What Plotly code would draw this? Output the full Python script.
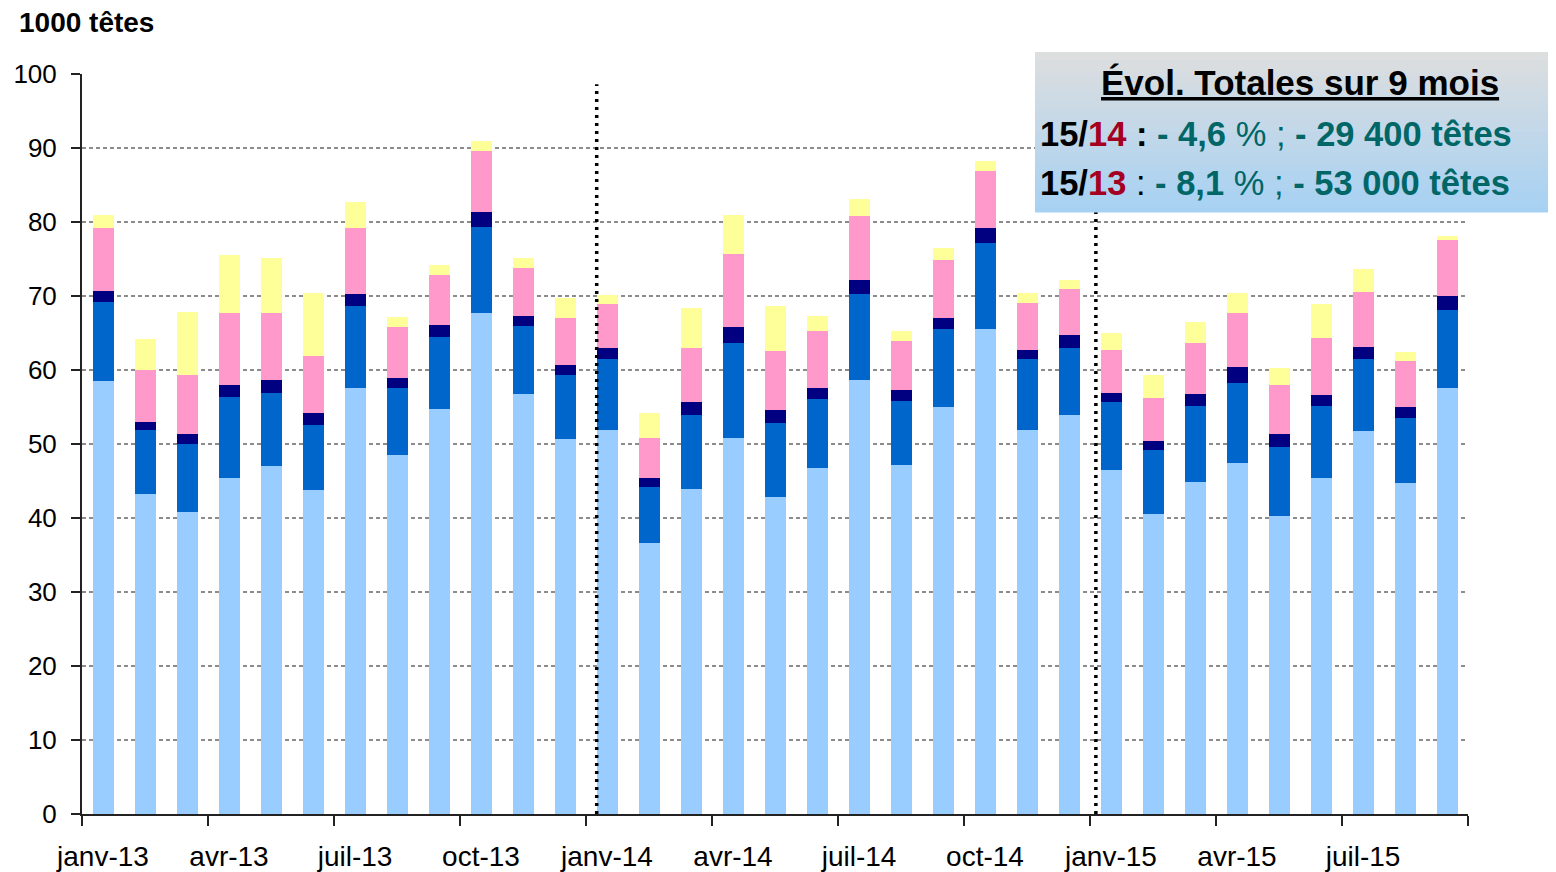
import plotly.graph_objects as go

months = [
    "janv-13", "févr-13", "mars-13", "avr-13", "mai-13", "juin-13",
    "juil-13", "août-13", "sept-13", "oct-13", "nov-13", "déc-13",
    "janv-14", "févr-14", "mars-14", "avr-14", "mai-14", "juin-14",
    "juil-14", "août-14", "sept-14", "oct-14", "nov-14", "déc-14",
    "janv-15", "févr-15", "mars-15", "avr-15", "mai-15", "juin-15",
    "juil-15", "août-15", "sept-15",
]

# stacked series, bottom to top (1000 têtes)
serie_1 = [58.5, 43.2, 40.8, 45.4, 47.0, 43.8, 57.6, 48.5, 54.7, 67.7, 56.8, 50.7,
           51.9, 36.6, 43.9, 50.8, 42.8, 46.8, 58.6, 47.2, 55.0, 65.5, 51.9, 53.9,
           46.5, 40.5, 44.9, 47.4, 40.3, 45.4, 51.8, 44.7, 57.6]
serie_2 = [10.7, 8.7, 9.2, 11.0, 9.9, 8.8, 11.0, 9.1, 9.8, 11.6, 9.1, 8.6,
           9.6, 7.6, 10.0, 12.8, 10.0, 9.3, 11.7, 8.6, 10.5, 11.7, 9.6, 9.1,
           9.2, 8.7, 10.2, 10.8, 9.3, 9.7, 9.7, 8.8, 10.5]
serie_3 = [1.5, 1.1, 1.4, 1.6, 1.7, 1.6, 1.7, 1.3, 1.6, 2.1, 1.4, 1.4,
           1.5, 1.2, 1.8, 2.2, 1.8, 1.5, 1.9, 1.5, 1.5, 2.0, 1.2, 1.7,
           1.2, 1.2, 1.7, 2.2, 1.8, 1.5, 1.6, 1.5, 1.9]
serie_4 = [8.5, 7.0, 7.9, 9.7, 9.1, 7.7, 8.9, 6.9, 6.7, 8.2, 6.5, 6.3,
           5.9, 5.4, 7.3, 9.9, 8.0, 7.7, 8.6, 6.6, 7.9, 7.7, 6.4, 6.2,
           5.8, 5.8, 6.8, 7.3, 6.6, 7.7, 7.4, 6.2, 7.6]
serie_5 = [1.7, 4.2, 8.5, 7.8, 7.4, 8.5, 3.5, 1.4, 1.4, 1.3, 1.3, 2.7,
           1.2, 3.4, 5.4, 5.2, 6.0, 2.0, 2.3, 1.4, 1.6, 1.3, 1.3, 1.3,
           2.3, 3.1, 2.9, 2.7, 2.3, 4.6, 3.1, 1.2, 0.5]

series = [serie_1, serie_2, serie_3, serie_4, serie_5]
colors = ["#99CCFF", "#0066CC", "#000080", "#FF99CC", "#FFFF99"]

tick_every = 3
tick_labels = months[::tick_every]

FONT = "Liberation Sans, Arial, sans-serif"

# page has an 8px body margin: the figure is placed at (8, 8)
OFF = 8
W, H = 1556 - OFF, 872 - OFF
L, R, T, B = 82 - OFF, 88, 74 - OFF, 58
PW, PH = W - L - R, H - T - B


def px(xa):
    return (xa - OFF - L) / PW


def py(ya):
    return (H - B - (ya - OFF)) / PH


xpos = list(range(len(months)))

fig = go.Figure()
for vals, col in zip(series, colors):
    fig.add_trace(go.Bar(x=xpos, y=vals, marker=dict(color=col, line=dict(width=0)),
                         showlegend=False, hoverinfo="y"))

shapes = []
# year separators (dotted)
for xv in (11.755, 23.64):
    shapes.append(dict(type="line", xref="x", yref="y", x0=xv, x1=xv, y0=0, y1=98.6,
                       line=dict(color="black", width=3.5, dash="3px,5px"), layer="above"))

# gradient box
bx0, bx1, by0, by1 = 1035, 1556, 52, 212
top_c = (222, 222, 222)
bot_c = (166, 209, 243)
n = 40
for i in range(n):
    t = (i + 0.5) / n
    c = tuple(round(top_c[k] + (bot_c[k] - top_c[k]) * t) for k in range(3))
    ya = by0 + (by1 - by0) * i / n
    yb = by0 + (by1 - by0) * (i + 1) / n + 0.6
    shapes.append(dict(type="rect", xref="paper", yref="paper",
                       x0=px(bx0), x1=px(bx1), y0=py(yb), y1=py(ya),
                       fillcolor="rgb(%d,%d,%d)" % c, line=dict(width=0), layer="above"))

RED = "#A50021"
TEAL = "#006666"
line1 = ("<b>15/</b><b><span style='color:" + RED + "'>14</span></b><b> : </b>"
         "<span style='color:" + TEAL + "'><b>- 4,6 </b>% ; <b>- 29 400 têtes</b></span>")
line2 = ("<b>15/</b><b><span style='color:" + RED + "'>13</span></b> : "
         "<span style='color:" + TEAL + "'><b>- 8,1 </b>% ; <b>- 53 000 têtes</b></span>")

annotations = [
    dict(text="<b>1000 têtes</b>", xref="paper", yref="paper", x=px(17), y=py(22),
         xanchor="left", yanchor="middle", showarrow=False,
         font=dict(family=FONT, size=28, color="black")),
    dict(text="<b><u>Évol. Totales sur 9 mois</u></b>", xref="paper", yref="paper",
         x=px(1300), y=py(83), xanchor="center", yanchor="middle", showarrow=False,
         font=dict(family=FONT, size=35, color="black")),
    dict(text=line1, xref="paper", yref="paper", x=px(1038), y=py(134),
         xanchor="left", yanchor="middle", showarrow=False,
         font=dict(family=FONT, size=34.5, color="black")),
    dict(text=line2, xref="paper", yref="paper", x=px(1038), y=py(183),
         xanchor="left", yanchor="middle", showarrow=False,
         font=dict(family=FONT, size=34.5, color="black")),
]

fig.update_layout(
    width=W, height=H, autosize=False,
    margin=dict(l=L, r=R, t=T, b=B, pad=0, autoexpand=False),
    barmode="stack", bargap=0.5,
    plot_bgcolor="white", paper_bgcolor="white",
    font=dict(family=FONT, size=25, color="black"),
    shapes=shapes, annotations=annotations,
    xaxis=dict(
        range=[-0.5, len(months) - 0.5], tickmode="array",
        tickvals=xpos[::tick_every], ticktext=tick_labels,
        ticks="", showgrid=False, zeroline=False, automargin=False,
        showline=True, linecolor="#222", linewidth=2,
        ticklabelstandoff=16,
        tickfont=dict(family=FONT, size=28, color="black"),
        minor=dict(tickmode="array",
                   tickvals=[v - 0.5 for v in range(0, len(months) + 1, tick_every)],
                   ticks="outside", ticklen=10, tickcolor="#222", tickwidth=2, showgrid=False),
    ),
    yaxis=dict(
        range=[0, 100], dtick=10, tick0=0, automargin=False,
        showgrid=True, gridcolor="#8c8c8c", gridwidth=1.5, griddash="4px,3px",
        zeroline=False, showline=True, linecolor="#222", linewidth=2,
        ticks="outside", ticklen=9, tickcolor="#222", tickwidth=2,
        ticklabelstandoff=9,
        tickfont=dict(family=FONT, size=26, color="black"),
    ),
)

fig.write_html("out.html")
